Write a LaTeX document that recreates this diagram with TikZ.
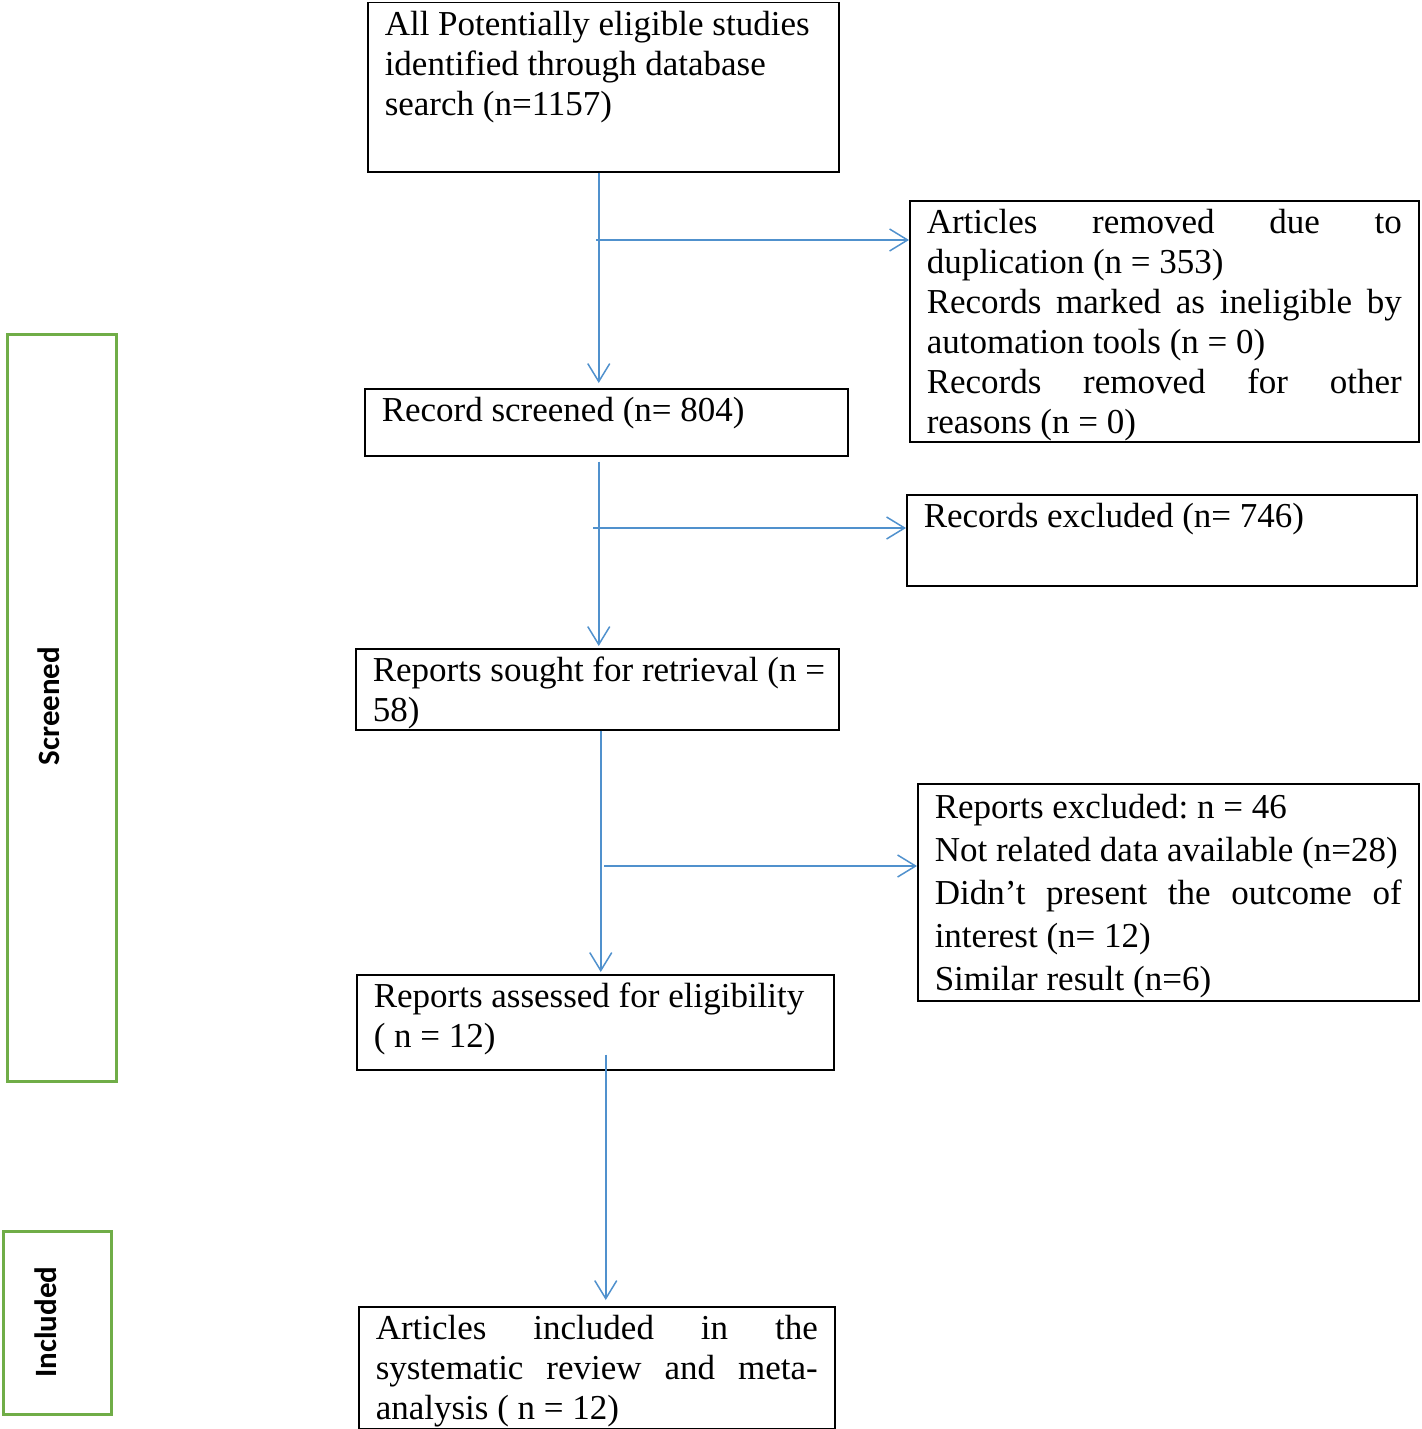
\documentclass[tikz,border=0pt]{standalone}
\usepackage{fontspec}
\setmainfont{Liberation Serif}
\newfontfamily\sidefont{Carlito}
\usetikzlibrary{arrows.meta}
\definecolor{flowblue}{RGB}{80,145,205}
\definecolor{sidegreen}{RGB}{112,173,71}
\frenchspacing
\newcommand{\boxtxt}[3]{\parbox[c][#2][t]{#1}{#3}}
\newcommand{\rl}[1]{\noindent\mbox{\strut#1}\par}
\newcommand{\jl}[1]{\noindent\makebox[\linewidth][s]{\strut#1}\par}
\tikzset{
  stage/.style={draw, line width=1.5pt, anchor=north west, inner xsep=17pt,
    inner ysep=4.5pt, font=\fontsize{35}{40}\selectfont},
  side/.style={draw=sidegreen, line width=3pt, anchor=north west, inner sep=0pt},
  sidelabel/.style={rotate=90, inner sep=0pt, font=\sidefont\bfseries\fontsize{31}{36}\selectfont},
  flow/.style={draw=flowblue, line width=1.5pt, -{Straight Barb[length=18pt,width=22pt]}},
}
\begin{document}
\begin{tikzpicture}[x=1pt, y=-1pt]
  \useasboundingbox (0,0) rectangle (1421,1429);
  \node[stage] (top)    at (367,2)    {\boxtxt{437pt}{160pt}{\rl{All Potentially eligible studies}\rl{identified through database}\rl{search (n=1157)}}};
  \node[stage] (dup)    at (909,200)  {\boxtxt{475pt}{232pt}{\jl{Articles removed due to}\rl{duplication (n = 353)}\jl{Records marked as ineligible by}\rl{automation tools (n = 0)}\jl{Records removed for other}\rl{reasons (n = 0)}}};
  \node[stage] (scr)    at (364,388)  {\boxtxt{449pt}{58pt}{\rl{Record screened (n= 804)}}};
  \node[stage] (excl)   at (906,494)  {\boxtxt{476pt}{82pt}{\rl{Records excluded (n= 746)}}};
  \node[stage] (sought) at (355,648)  {\boxtxt{449pt}{72pt}{\rl{Reports sought for retrieval (n =}\rl{58)}}};
  \node[stage, font=\fontsize{35}{43}\selectfont] (rexcl) at (917,783)
    {\boxtxt{467pt}{208pt}{\rl{Reports excluded: n = 46}\rl{Not related data available (n=28)}\jl{Didn’t present the outcome of}\rl{interest (n= 12)}\rl{Similar result (n=6)}}};
  \node[stage] (assess) at (356,974)  {\boxtxt{443pt}{86pt}{\rl{Reports assessed for eligibility}\rl{( n = 12)}}};
  \node[stage] (incl)   at (358,1306) {\boxtxt{442pt}{113pt}{\jl{Articles included in the}\jl{systematic review and meta-}\rl{analysis ( n = 12)}}};
  \node[side, minimum width=109pt, minimum height=747pt] (scrbox) at (6,333) {};
  \node[side, minimum width=108pt, minimum height=183pt] (inclbox) at (2,1230) {};
  \node[sidelabel] (scrlab)  at (49,706)  {Screened};
  \node[sidelabel] (incllab) at (46,1322) {Included};
  \coordinate (j1) at (596,240);
  \coordinate (j2) at (593,528);
  \coordinate (j3) at (604,866);
  \draw[flow, shorten >=5pt] ([xshift=-4.5pt]top.south) -- ([xshift=-4.5pt]top.south |- scr.north);
  \draw[flow, shorten <=5pt, shorten >=2pt] ([xshift=-7.5pt]scr.south) -- ([xshift=-7.5pt]scr.south |- sought.north);
  \draw[flow, shorten >=2pt] ([xshift=3.5pt]sought.south) -- ([xshift=3.5pt]sought.south |- assess.north);
  \draw[flow, shorten <=-16pt, shorten >=6pt] ([xshift=10.5pt]assess.south) -- ([xshift=10.5pt]assess.south |- incl.north);
  \draw[flow] (j1) -- (j1 -| dup.west);
  \draw[flow] (j2) -- (j2 -| excl.west);
  \draw[flow] (j3) -- (j3 -| rexcl.west);
\end{tikzpicture}
\end{document}
